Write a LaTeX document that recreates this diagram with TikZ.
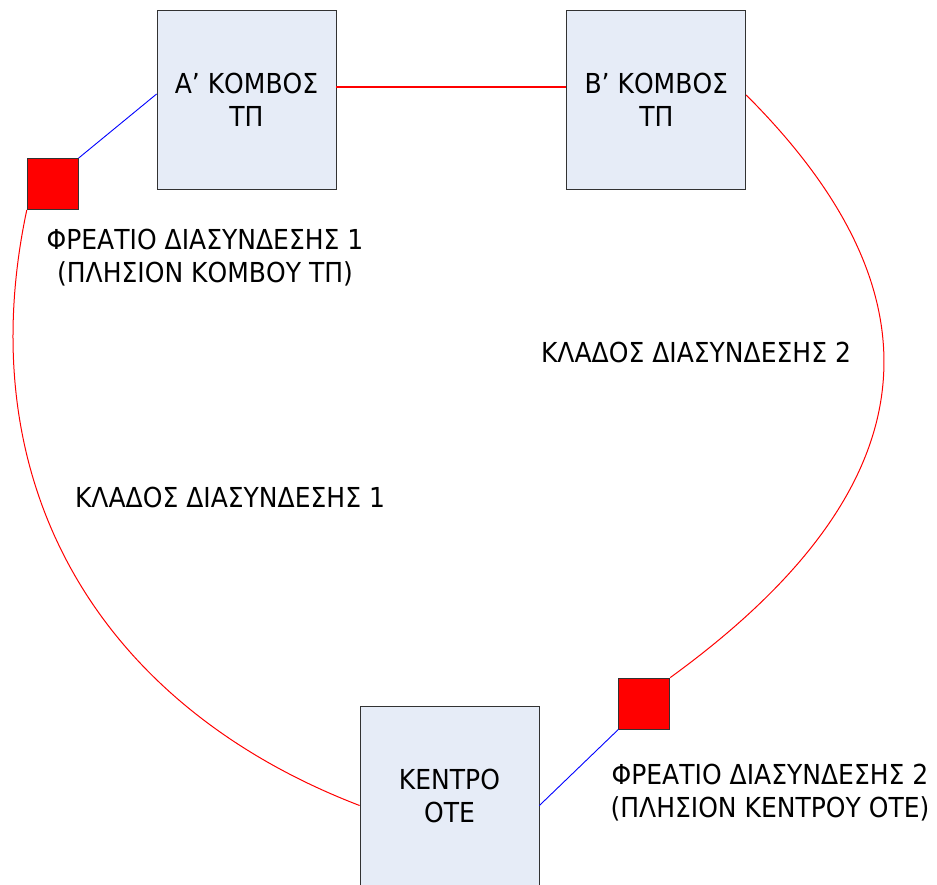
\documentclass[tikz,border=0pt]{standalone}
\usepackage{fontspec}
\setmainfont[FakeStretch=0.91]{DejaVu Sans}
\usepackage{xcolor}
\usetikzlibrary{positioning}
\definecolor{boxfill}{RGB}{230,236,247}
\definecolor{boxline}{RGB}{50,50,50}
\tikzset{kombos/.style={rectangle, draw=boxline, fill=boxfill, line width=0.8pt,
        minimum width=179pt, minimum height=179pt, inner sep=0pt,
        text centered, align=center},
  freatio/.style={rectangle, draw=boxline, fill=red, line width=0.8pt,
        minimum width=51pt, minimum height=51pt, inner sep=0pt},
  lbltext/.style={align=center, inner sep=0pt},
  redline/.style={draw=red, line width=1pt},
  blueline/.style={draw=blue, line width=0.9pt}}

\begin{document}
\begin{tikzpicture}[x=1pt, y=1pt, font=\fontsize{27.5}{33}\selectfont]
        \useasboundingbox (0,0) rectangle (937,-884);
        \node (kombosA) [kombos] at (246.5,-100) {Α’ ΚΟΜΒΟΣ\\ΤΠ};
        \node (kombosB) [kombos, right=230pt of kombosA] {Β’ ΚΟΜΒΟΣ\\ΤΠ};
        \node (kentro) [kombos] at (449.5,-795.5) {ΚΕΝΤΡΟ\\ΟΤΕ};
        \node (freatio1) [freatio, left=78pt of kombosA, yshift=-84pt] {};
        \node (freatio2) [freatio, right=79pt of kentro, yshift=92pt] {};
        % labels
        \node (lblF1) [lbltext] at (205,-258) {ΦΡΕΑΤΙΟ ΔΙΑΣΥΝΔΕΣΗΣ 1\\(ΠΛΗΣΙΟΝ ΚΟΜΒΟΥ ΤΠ)};
        \node (lblF2) [lbltext] at (770,-793) {ΦΡΕΑΤΙΟ ΔΙΑΣΥΝΔΕΣΗΣ 2\\(ΠΛΗΣΙΟΝ ΚΕΝΤΡΟΥ ΟΤΕ)};
        \node (lblK2) [lbltext] at (696,-352) {ΚΛΑΔΟΣ ΔΙΑΣΥΝΔΕΣΗΣ 2};
        \node (lblK1) [lbltext] at (230,-497) {ΚΛΑΔΟΣ ΔΙΑΣΥΝΔΕΣΗΣ 1};
        % connections
        \draw[redline, line width=1.4pt] ([yshift=13pt]kombosA.east) -- ([yshift=13pt]kombosB.west);
        \draw[blueline] (freatio1.north east) -- ([yshift=6pt]kombosA.west);
        \draw[blueline] (freatio2.south west) -- ([yshift=-10pt]kentro.east);
        \draw[redline] ([yshift=5pt]kombosB.east) to[out=-45, in=36, out distance=280pt, in distance=330pt] (freatio2.north east);
        \draw[redline] (freatio1.south west) to[out=-102, in=159, out distance=285pt, in distance=275pt] ([yshift=-10pt]kentro.west);
      \end{tikzpicture}
\end{document}
